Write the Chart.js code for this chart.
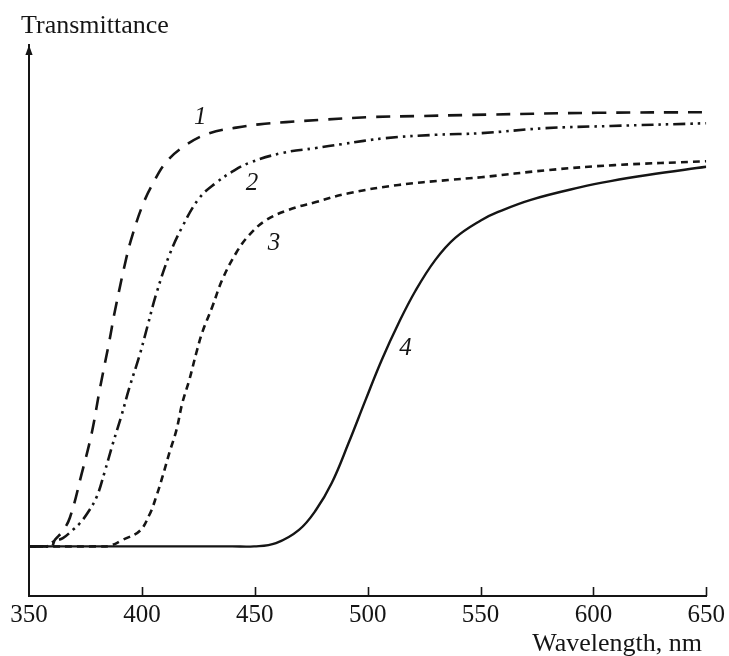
<!DOCTYPE html>
<html>
<head>
<meta charset="utf-8">
<script src="https://cdn.jsdelivr.net/npm/chart.js@4.4.1/dist/chart.umd.min.js"></script>
<style>
  html, body { margin: 0; padding: 0; background: #ffffff; }
  #c { display: block; }
</style>
</head>
<body>
<canvas id="c" width="729" height="656"></canvas>
<script>
// ---- data (wavelength in nm, transmittance in arbitrary units) ----
const xTicks = [350, 400, 450, 500, 550, 600, 650];
const seriesNames = ['1', '2', '3', '4'];

const wl1 = [350, 356, 360, 361.5, 364.6, 368.1, 373.4, 377.8, 381.3, 385.7, 387.9, 393.2, 395.9, 400.3, 404.7, 410.9, 419.7, 429.9, 441.8, 451.9, 463.8, 478.4, 500.4, 522.5, 544.6, 601.9, 650];
const t1  = [9.0, 9.0, 9.0, 10.2, 11.6, 14.2, 22.3, 29.6, 37.4, 46.5, 51.4, 61.5, 65.6, 70.9, 74.7, 78.8, 81.9, 84.0, 85.0, 85.6, 86.0, 86.4, 86.9, 87.1, 87.3, 87.7, 87.8];

const wl2 = [350, 355, 358, 360.6, 365.0, 369.4, 372.5, 376.0, 380.0, 383.5, 387.1, 391.0, 394.6, 399.0, 402.5, 406.5, 412.2, 417.9, 425.4, 432.9, 440.0, 447.5, 462.1, 477.1, 488.5, 508.0, 530.0, 550.3, 578.5, 607.6, 650];
const t2  = [9.0, 9.0, 9.0, 9.8, 10.5, 12.0, 13.2, 15.1, 18.0, 22.5, 27.6, 32.8, 38.0, 43.7, 49.0, 55.0, 61.9, 67.0, 72.2, 75.0, 77.0, 78.6, 80.4, 81.3, 82.0, 83.1, 83.7, 84.0, 84.9, 85.3, 85.8];

const wl3 = [350, 380, 385.7, 391.5, 399.0, 403.4, 406.5, 409.1, 412.2, 415.3, 417.9, 421.0, 424.1, 426.8, 431.2, 435.6, 441.8, 447.5, 455.0, 465.1, 477.1, 491.6, 513.7, 535.7, 550.3, 579.9, 609.4, 650];
const t3  = [9.0, 9.0, 9.1, 10.2, 11.8, 14.8, 18.2, 21.6, 26.0, 30.1, 35.0, 39.2, 44.1, 47.9, 52.5, 57.4, 62.3, 65.5, 68.2, 70.1, 71.5, 73.1, 74.6, 75.5, 76.0, 77.3, 78.2, 78.9];

const wl4 = [350, 440, 449.7, 459.4, 469.6, 477.1, 484.1, 491.6, 499.1, 506.2, 513.7, 521.2, 530.0, 538.8, 550.3, 557.8, 572.3, 594.4, 607.6, 624.0, 650];
const t4  = [9.0, 9.0, 9.0, 9.6, 12.0, 15.6, 20.5, 27.8, 35.6, 42.8, 49.5, 55.4, 61.0, 65.0, 68.2, 69.7, 71.9, 74.2, 75.3, 76.4, 77.9];

// curve-number annotations, placed in data units
const labelWl = [425.9, 448.8, 458.5, 516.8];
const labelT  = [86.9, 74.8, 63.9, 45.0];

function pts(xs, ys) { return xs.map((x, i) => ({ x: x, y: ys[i] })); }

const INK = '#151515';
const SERIF = '"Liberation Serif", "DejaVu Serif", serif';

const decorPlugin = {
  id: 'decor',
  afterDraw(chart) {
    const ctx = chart.ctx;
    const xs = chart.scales.x, ys = chart.scales.y;
    const area = chart.chartArea;
    ctx.save();
    ctx.strokeStyle = INK;
    ctx.fillStyle = INK;
    // inward tick marks on x axis
    ctx.lineWidth = 1.6;
    xTicks.forEach(v => {
      if (v === xTicks[0]) return;
      const px = Math.round(xs.getPixelForValue(v)) + 0.5;
      ctx.beginPath();
      ctx.moveTo(px, area.bottom);
      ctx.lineTo(px, area.bottom - 9);
      ctx.stroke();
    });
    // arrow head on y axis
    const ax = area.left;
    ctx.beginPath();
    ctx.moveTo(ax, area.top);
    ctx.lineTo(ax - 3.6, area.top + 10);
    ctx.lineTo(ax + 3.6, area.top + 10);
    ctx.closePath();
    ctx.fill();
    // axis titles
    ctx.font = '26px ' + SERIF;
    ctx.textBaseline = 'alphabetic';
    ctx.textAlign = 'left';
    ctx.fillText('Transmittance', 21, 33);
    ctx.textAlign = 'right';
    ctx.fillText('Wavelength, nm', 702, 651);
    // curve numbers
    ctx.font = 'italic 25px ' + SERIF;
    ctx.textAlign = 'center';
    ctx.textBaseline = 'middle';
    seriesNames.forEach((n, i) => {
      ctx.fillText(n, xs.getPixelForValue(labelWl[i]), ys.getPixelForValue(labelT[i]));
    });
    ctx.restore();
  }
};

const common = { pointRadius: 0, borderColor: INK, fill: false, tension: 0.4, borderCapStyle: 'butt', borderJoinStyle: 'round' };

new Chart(document.getElementById('c'), {
  type: 'line',
  data: {
    datasets: [
      Object.assign({ label: seriesNames[0], data: pts(wl1, t1), borderWidth: 2.6, borderDash: [14, 10] }, common),
      Object.assign({ label: seriesNames[1], data: pts(wl2, t2), borderWidth: 2.6, borderDash: [12, 5, 2.5, 5, 2.5, 5] }, common),
      Object.assign({ label: seriesNames[2], data: pts(wl3, t3), borderWidth: 2.6, borderDash: [7, 5] }, common),
      Object.assign({ label: seriesNames[3], data: pts(wl4, t4), borderWidth: 2.4 }, common)
    ]
  },
  options: {
    responsive: false,
    animation: false,
    devicePixelRatio: 1,
    layout: { padding: { top: 45, right: 20, left: 0, bottom: 0 } },
    plugins: { legend: { display: false }, tooltip: { enabled: false }, title: { display: false } },
    scales: {
      x: {
        type: 'linear',
        min: 350, max: 650,
        afterBuildTicks: s => { s.ticks = xTicks.map(v => ({ value: v })); },
        afterFit: s => { s.height = 60; },
        ticks: { font: { family: SERIF, size: 25 }, color: INK, padding: 4, maxRotation: 0, autoSkip: false },
        grid: { display: false, drawTicks: false },
        border: { display: true, color: INK, width: 2 }
      },
      y: {
        min: 0, max: 100,
        afterFit: s => { s.width = 29; },
        ticks: { display: false },
        grid: { display: false, drawTicks: false },
        border: { display: true, color: INK, width: 2 }
      }
    }
  },
  plugins: [decorPlugin]
});
</script>
</body>
</html>
